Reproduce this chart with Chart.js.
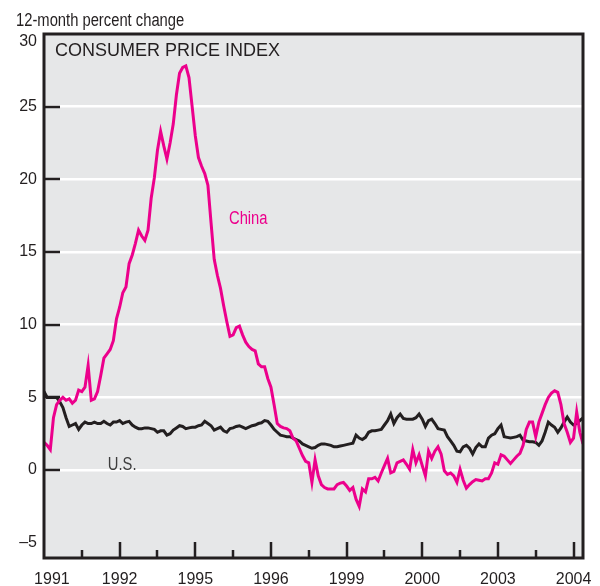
<!DOCTYPE html>
<html>
<head>
<meta charset="utf-8">
<script src="https://cdn.jsdelivr.net/npm/chart.js@4"></script>
<style>
  body { margin: 0; background: #fff; }
  #wrap { width: 600px; height: 586px; }
</style>
</head>
<body>
<div id="wrap"><canvas id="cpiChart" width="600" height="586"></canvas></div>
<script>
// monthly, Jan 1991 .. Apr 2005 (index 0 = Jan 1991)
const chinaCpi = [
  1.9, 1.7, 1.4, 3.6, 4.5, 4.8, 5.0, 4.8, 4.9, 4.6, 4.8, 5.5,
  5.4, 5.7, 7.2, 4.8, 4.9, 5.4, 6.5, 7.7, 8.0, 8.3, 8.9, 10.4,
  11.2, 12.2, 12.6, 14.2, 14.8, 15.6, 16.5, 16.1, 15.8, 16.5, 18.7, 20.1,
  22.0, 23.3, 22.3, 21.4, 22.5, 23.8, 25.8, 27.3, 27.7, 27.8, 27.0, 25.0,
  23.0, 21.5, 20.9, 20.4, 19.6, 17.0, 14.5, 13.4, 12.5, 11.3, 10.2, 9.2,
  9.3, 9.8, 9.9, 9.3, 8.8, 8.5, 8.3, 8.2, 7.3, 7.1, 7.1, 6.3,
  5.7, 4.5, 3.2, 3.0, 2.9, 2.85, 2.7, 2.2, 2.0, 1.5, 1.0, 0.6,
  0.5, -0.85, 0.7, -0.4, -1.0, -1.2, -1.3, -1.3, -1.3, -1.0, -0.9, -0.85,
  -1.1, -1.4, -1.2, -2.0, -2.5, -1.3, -1.5, -0.6, -0.6, -0.5, -0.75, -0.2,
  0.3, 0.8, -0.2, -0.1, 0.5, 0.6, 0.7, 0.4, 0.05, 1.4, 0.5, 1.05,
  0.3, -0.4, 1.3, 0.8, 1.3, 1.6, 1.1, -0.05, -0.3, -0.2, -0.4, -0.85,
  0.05, -0.7, -1.25, -1.0, -0.8, -0.65, -0.7, -0.75, -0.6, -0.6, -0.2, 0.5,
  0.4, 1.05, 0.95, 0.7, 0.45, 0.7, 0.95, 1.15, 1.7, 2.8, 3.3, 3.3,
  2.3, 3.3, 3.9, 4.5, 5.0, 5.3, 5.45, 5.35, 4.5, 3.2, 2.6, 1.9,
  2.2, 4.0, 2.6, 1.8
];
const usCpi = [
  5.4, 5.0, 5.0, 5.0, 5.0, 4.7, 4.3, 3.6, 3.0, 3.1, 3.2, 2.8,
  3.1, 3.3, 3.2, 3.2, 3.3, 3.2, 3.2, 3.35, 3.2, 3.1, 3.3, 3.3,
  3.4, 3.2, 3.3, 3.35, 3.1, 2.95, 2.85, 2.85, 2.9, 2.9, 2.85, 2.8,
  2.6, 2.7, 2.7, 2.4, 2.5, 2.75, 2.9, 3.05, 3.0, 2.85, 2.9, 2.95,
  2.95, 3.05, 3.1, 3.35, 3.2, 3.05, 2.75, 2.85, 2.95, 2.7, 2.6, 2.85,
  2.9, 3.0, 3.05, 2.95, 2.85, 2.95, 3.05, 3.1, 3.2, 3.25, 3.4, 3.35,
  3.1, 2.8, 2.6, 2.4, 2.35, 2.3, 2.3, 2.2, 2.1, 2.0, 1.8, 1.7,
  1.6, 1.5, 1.55, 1.7, 1.8, 1.8, 1.75, 1.7, 1.6, 1.6, 1.65, 1.7,
  1.75, 1.8, 1.85, 2.4, 2.2, 2.1, 2.25, 2.6, 2.7, 2.7, 2.75, 2.8,
  3.1, 3.4, 3.85, 3.2, 3.6, 3.85, 3.55, 3.5, 3.5, 3.5, 3.6, 3.85,
  3.5, 3.0, 3.4, 3.5, 3.2, 2.85, 2.8, 2.75, 2.3, 2.0, 1.7, 1.3,
  1.25, 1.6, 1.7, 1.5, 1.1, 1.55, 1.8, 1.6, 1.6, 2.2, 2.4, 2.5,
  2.85, 3.1, 2.3, 2.25, 2.2, 2.25, 2.3, 2.4, 2.05, 2.0, 1.95, 1.95,
  1.9, 1.7, 2.0, 2.6, 3.3, 3.1, 2.95, 2.6, 2.9, 3.3, 3.65, 3.3,
  3.1, 3.2, 3.4, 3.6
];
// x tick labels as printed on the original, one every 24 months
const xTickLabels = ['1991', '1992', '1995', '1996', '1999', '2000', '2003', '2004'];
const yTickValues = [-5, 0, 5, 10, 15, 20, 25, 30];

const PINK = '#ec008c';
const INK = '#231f20';
const SANS = "'Liberation Sans', Arial, sans-serif";

// no condensed face installed: squeeze regular text horizontally
function narrowText(c, text, x, y, align) {
    c.save();
    c.translate(x, y);
    c.scale(0.82, 1);
    c.textAlign = align;
    c.fillText(text, 0, 0);
    c.restore();
}

// plot background, inside ticks, frame and text labels
const decorations = {
    id: 'decorations',
    beforeDraw(chart) {
        const a = chart.chartArea;
        const c = chart.ctx;
        c.save();
        c.fillStyle = '#e6e7e8';
        c.fillRect(a.left, a.top, a.right - a.left, a.bottom - a.top);
        c.restore();
    },
    afterDatasetsDraw(chart) {
        const a = chart.chartArea;
        const c = chart.ctx;
        const x = chart.scales.x;
        const y = chart.scales.y;
        c.save();
        c.strokeStyle = INK;
        c.lineWidth = 2.5;
        c.beginPath();
        // yearly ticks standing up from the bottom axis
        for (let m = 12; m <= x.max; m += 12) {
            const px = Math.round(x.getPixelForValue(m));
            const len = m % 24 === 0 ? 16 : 8;
            c.moveTo(px, a.bottom);
            c.lineTo(px, a.bottom - len);
        }
        // short ticks from the left axis
        for (let v = 0; v <= 25; v += 5) {
            const py = Math.round(y.getPixelForValue(v));
            c.moveTo(a.left, py);
            c.lineTo(a.left + 16, py);
        }
        c.stroke();
        c.lineWidth = 3;
        c.strokeRect(a.left, a.top, a.right - a.left, a.bottom - a.top);

        c.fillStyle = INK;
        c.font = '18px ' + SANS;
        c.textBaseline = 'alphabetic';
        c.fillText('CONSUMER PRICE INDEX', a.left + 11, a.top + 22);

        c.font = '18px ' + SANS;
        narrowText(c, '12-month percent change', 16, 26, 'left');

        c.textBaseline = 'middle';
        c.fillStyle = PINK;
        narrowText(c, 'China', x.getPixelForValue(64.8), y.getPixelForValue(17.3), 'center');
        c.fillStyle = '#3d3d3d';
        narrowText(c, 'U.S.', x.getPixelForValue(24.8), y.getPixelForValue(0.35), 'center');
        c.restore();
    }
};

const ctx = document.getElementById('cpiChart').getContext('2d');
const cpiChart = new Chart(ctx, {
    type: 'line',
    data: {
        datasets: [
            {
                label: 'China',
                data: chinaCpi.map((v, i) => ({ x: i, y: v })),
                borderColor: PINK,
                borderWidth: 3,
                pointRadius: 0,
                tension: 0
            },
            {
                label: 'U.S.',
                data: usCpi.map((v, i) => ({ x: i, y: v })),
                borderColor: INK,
                borderWidth: 3,
                pointRadius: 0,
                tension: 0
            }
        ]
    },
    options: {
        responsive: false,
        animation: false,
        devicePixelRatio: 1,
        layout: { padding: { top: 34, right: 17, left: 0, bottom: 0 } },
        plugins: { legend: { display: false }, tooltip: { enabled: false } },
        scales: {
            x: {
                type: 'linear',
                min: 0,
                max: 171,
                grid: { display: false },
                border: { display: false },
                // first label sits a little inside the left edge, as in the original
                afterBuildTicks: (s) => { s.ticks = xTickLabels.map((_, i) => ({ value: i === 0 ? 2.5 : i * 24 })); },
                afterFit: (s) => { s.height = 28; },
                ticks: {
                    autoSkip: false,
                    maxRotation: 0,
                    padding: 4,
                    color: INK,
                    font: { family: SANS, size: 16 },
                    callback: (v, i) => xTickLabels[i]
                }
            },
            y: {
                min: -6.05,
                max: 30,
                // top label is nudged down below the frame edge
                afterBuildTicks: (s) => { s.ticks = yTickValues.map(v => ({ value: v === 30 ? 29.45 : v })); },
                afterFit: (s) => { s.width = 44; },
                grid: {
                    drawTicks: false,
                    lineWidth: 2.5,
                    color: (c) => (c.tick && c.tick.value >= 0 && c.tick.value <= 25) ? '#ffffff' : 'rgba(0,0,0,0)'
                },
                border: { display: false },
                ticks: {
                    padding: 7,
                    color: INK,
                    font: { family: SANS, size: 16 },
                    callback: (v, i) => yTickValues[i] < 0 ? '\u2013' + Math.abs(yTickValues[i]) : String(yTickValues[i])
                }
            }
        }
    },
    plugins: [decorations]
});
</script>
</body>
</html>
